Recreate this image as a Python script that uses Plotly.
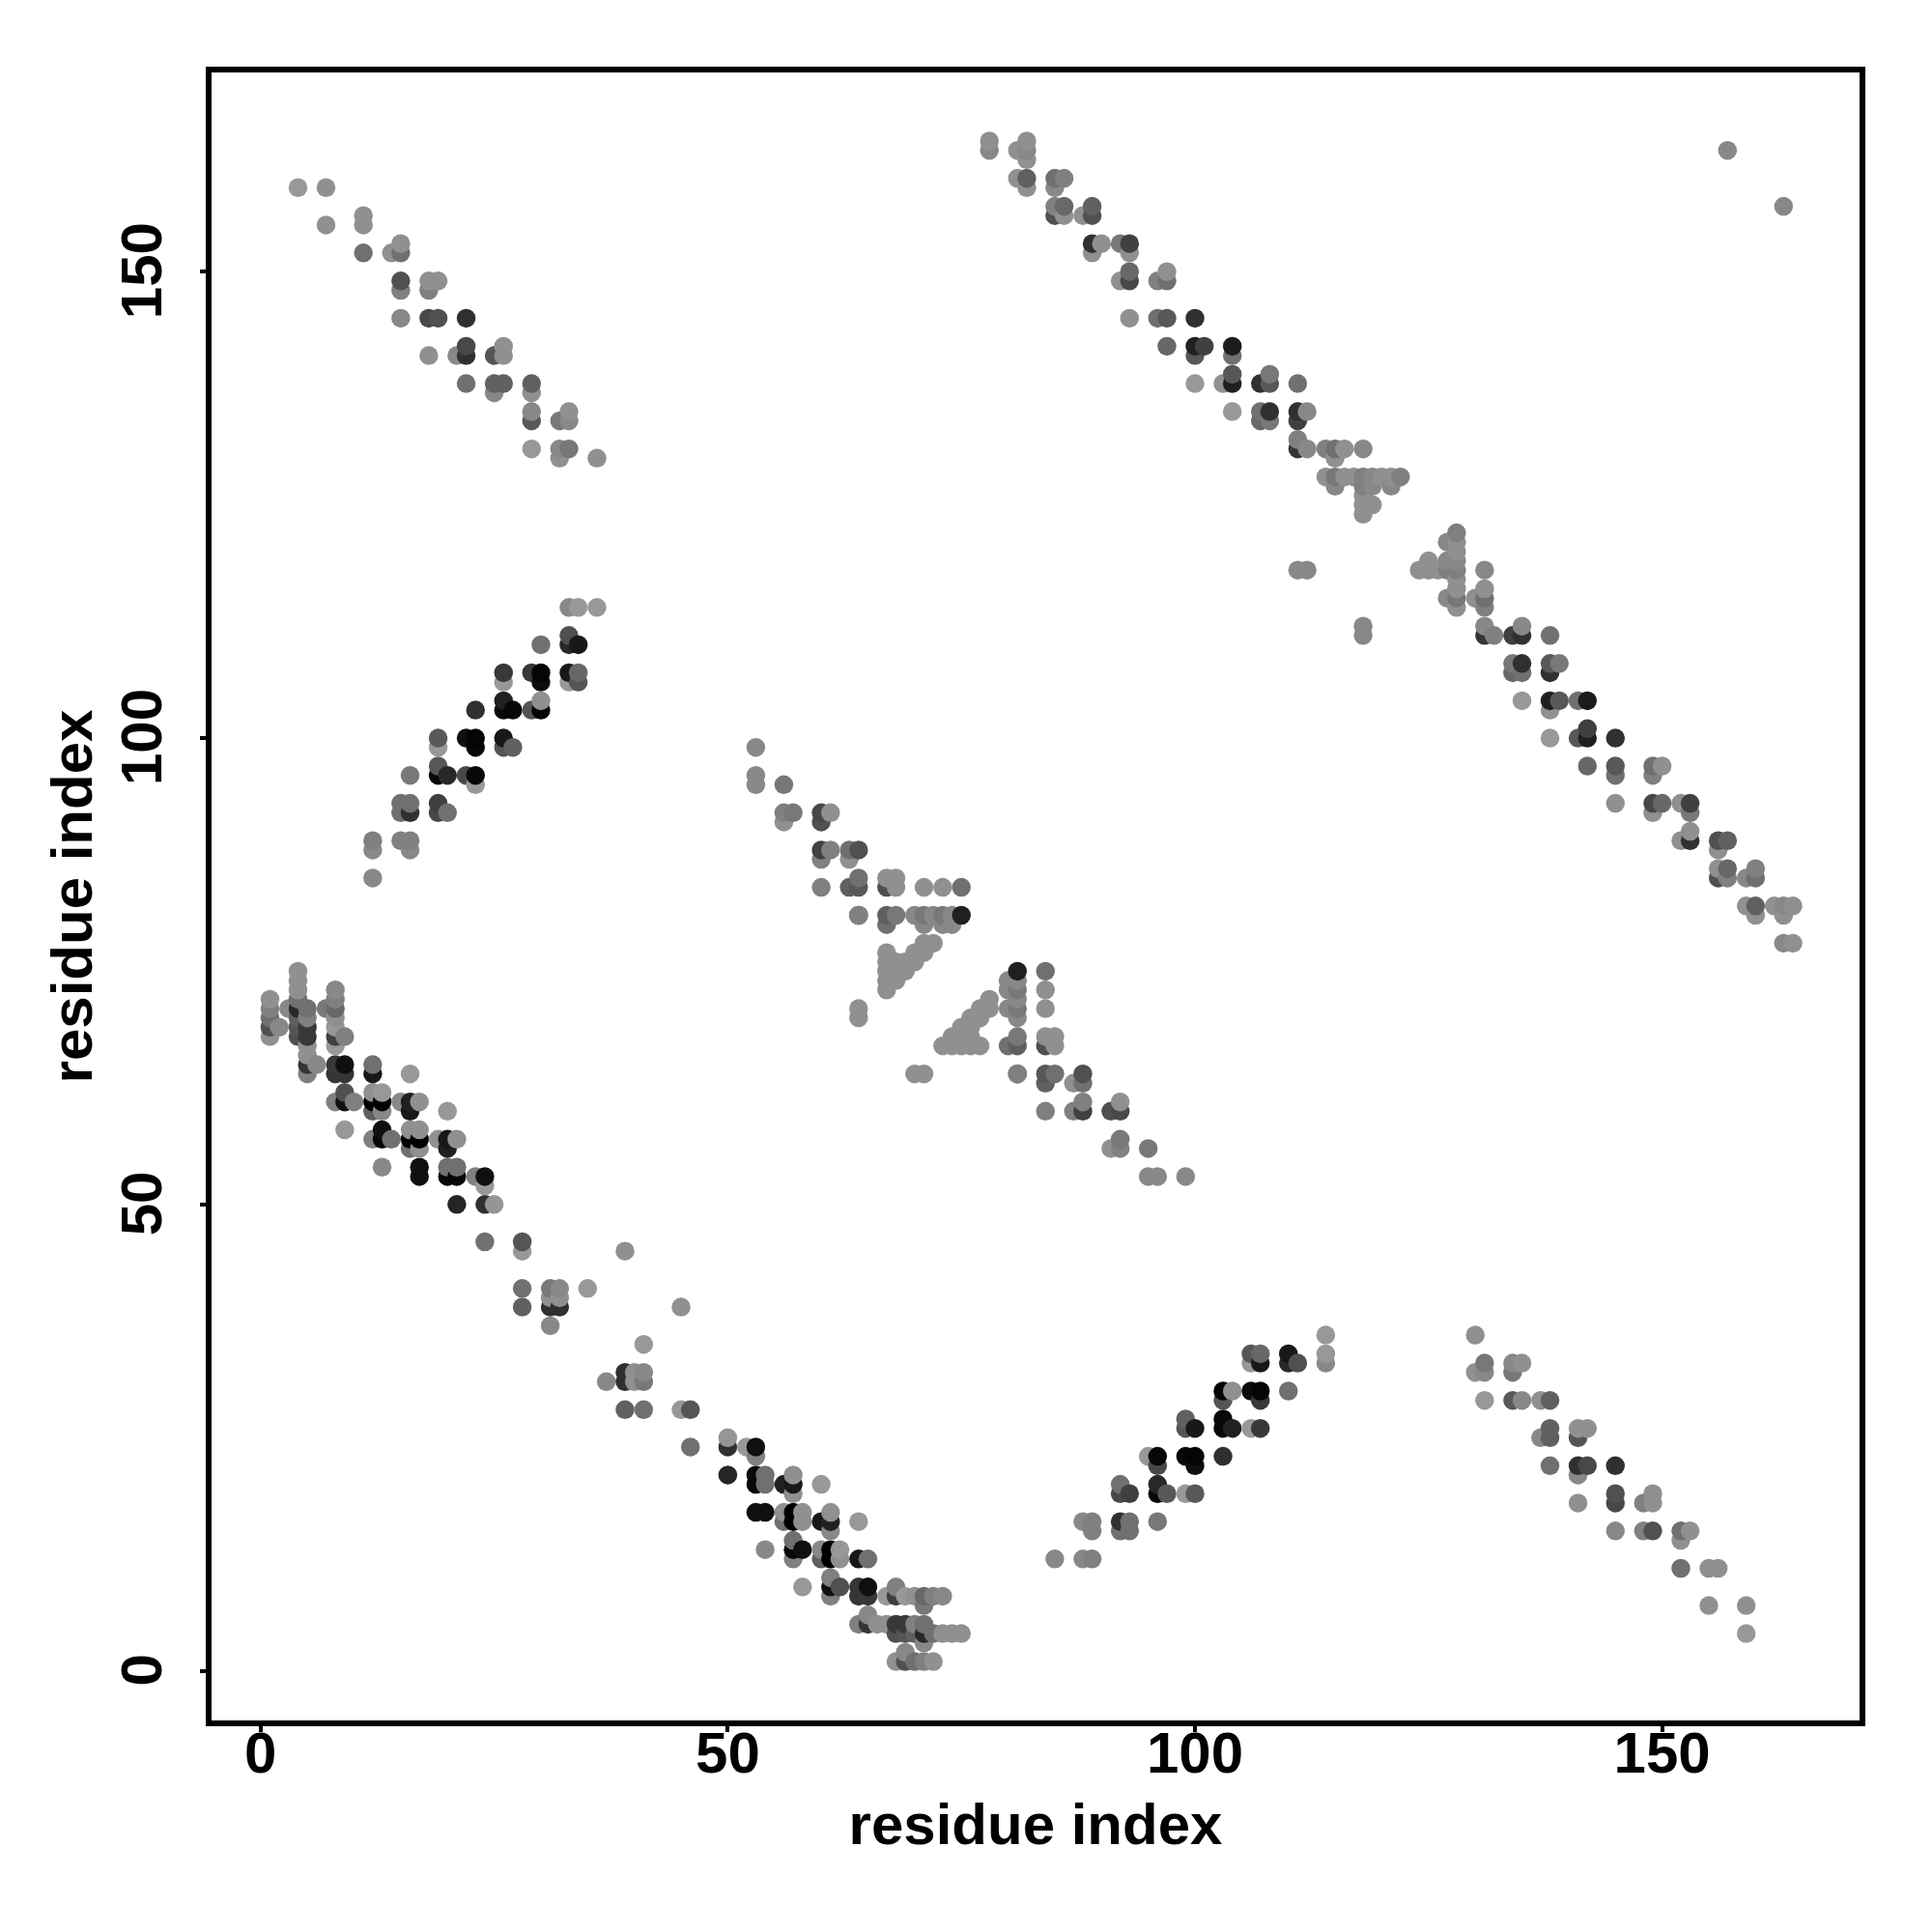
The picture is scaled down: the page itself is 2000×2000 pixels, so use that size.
import plotly.graph_objects as go

# Contact map values, lower triangle (i > j); the upper triangle is its mirror.
band_a_i = [37,39,39,40,40,41,41,41,39,41,45,45,46,46,
            50,50,52,53,53,50,53,53,54,54,56,57,57,57,60,
            53,54,56,56,57,57,58,58,60,61,61,61,64,
            54,57,57,57,58,60,60,61,61,62,62,64,65,
            58,61,61,61,62,64,64,65,65,67,68,68,69,70,71,71,72,73,
            64,65,65,66,67,68,68,69,69,70,70,71,71,71,72,73,74,75,
            68,69,69,70,71,72]
band_a_j = [31,32,31,32,31,32,31,35,28,28,39,28,28,24,
            25,24,24,24,23,21,21,20,21,20,20,21,20,19,20,
            17,17,17,16,17,16,17,16,16,17,16,15,16,
            13,14,13,12,13,13,12,13,12,13,12,12,12,
            9,10,9,8,9,9,8,9,8,8,9,8,8,8,8,7,8,8,
            5,6,5,5,5,5,4,5,4,5,4,5,4,3,4,4,4,4,
            1,2,1,1,1,1]
band_a_g = [0x88,0x30,0x30,0x90,0x90,0x88,0x78,0x98,0x60,0x70,0x90,0x98,0x55,0x70,
            0x95,0x30,0x98,0x10,0x80,0x25,0x08,0x08,0x70,0x70,0x20,0x90,0x18,0x90,0x98,
            0x10,0x10,0x90,0x70,0x00,0x00,0x90,0x90,0x18,0x90,0x20,0x88,0x98,
            0x88,0x70,0x08,0x80,0x10,0x88,0x60,0x00,0x00,0x98,0x90,0x18,0x70,
            0x98,0x80,0x10,0x80,0x50,0x35,0x35,0x10,0x38,0x98,0x80,0x40,0x98,0x90,0x68,0x78,0x80,0x88,
            0x80,0x88,0x35,0x90,0x90,0x38,0x50,0x38,0x55,0x80,0x60,0x70,0x28,0x88,0x70,0x90,0x90,0x90,
            0x90,0x88,0x50,0x70,0x80,0x90]

band_b_i = [85,88,89,88,89,89,92,92,93,93,96,
            92,92,93,96,96,97,99,100,
            95,96,96,99,100,100,103,
            99,99,100,103,103,104,106,107,
            103,103,104,106,107,107,110,
            106,106,107,107,110,110,111,114,114,114]
band_b_j = [12,12,12,16,16,15,16,15,16,15,16,
            20,19,19,20,19,19,19,19,
            23,23,22,23,23,22,23,
            27,26,26,27,26,26,26,26,
            30,29,30,30,30,29,30,
            34,33,34,33,34,33,33,36,34,33]
band_b_g = [0x88,0x88,0x80,0x88,0x80,0x80,0x30,0x70,0x70,0x70,0x78,
            0x70,0x48,0x40,0x28,0x08,0x58,0x98,0x58,
            0x98,0x08,0x48,0x08,0x05,0x10,0x30,
            0x60,0x55,0x18,0x08,0x08,0x20,0x98,0x38,
            0x05,0x55,0x90,0x0c,0x05,0x38,0x70,
            0x55,0x98,0x68,0x18,0x18,0x28,0x50,0x98,0x98,0x88]

band_c_i = [130,130,131,131,134,134,135,
            131,134,135,137,138,
            137,138,138,141,141,142,
            138,141,141,142,145,
            141,145,145,148,149,149,
            145,148,149,152,152,153,
            152,155,156,155,159,159]
band_c_j = [36,32,33,32,33,32,33,
            29,29,29,29,29,
            25,26,25,26,25,26,
            22,22,21,22,22,
            18,19,18,18,19,18,
            15,15,15,15,14,15,
            11,11,11,7,7,4]
band_c_g = [0x90,0x90,0x78,0x88,0x88,0x78,0x90,
            0x98,0x58,0x88,0x90,0x60,
            0x88,0x60,0x60,0x90,0x55,0x90,
            0x70,0x30,0x88,0x48,0x30,
            0x90,0x50,0x48,0x80,0x90,0x90,
            0x88,0x80,0x50,0x70,0x90,0x90,
            0x70,0x90,0x90,0x90,0x90,0x98]

band_d_i = [70,71,73,74,75,74,75,76,76,75,76,76,77,77,77,78,78,
            80,80,80,80,81,81,81,81,81,81,81,81,81,84,84,84,
            81,84,84,85,85,81,84,84,85,87,88,88,
            84,87,88,88,91,92,92,91,92,92,95,95,96,99]
band_d_j = [64,64,67,67,67,68,68,67,68,69,69,70,67,70,71,71,72,
            74,73,71,67,75,74,73,72,71,70,68,67,64,75,73,71,
            64,68,67,68,67,64,64,63,64,63,64,63,
            60,60,61,60,60,61,60,56,57,56,56,53,53,53]
band_d_g = [0x90,0x90,0x90,0x90,0x90,0x90,0x90,0x90,0x90,0x90,0x90,0x90,0x90,0x90,0x90,0x90,0x90,
            0x88,0x88,0x88,0x70,0x20,0x88,0x78,0x88,0x78,0x88,0x78,0x60,0x80,0x70,0x90,0x90,
            0x80,0x90,0x50,0x90,0x90,0x80,0x58,0x60,0x70,0x90,0x50,0x70,
            0x80,0x80,0x80,0x40,0x50,0x90,0x48,0x90,0x78,0x80,0x78,0x88,0x88,0x88]

band_e_i = [118,118,124,125,125,126,
            127,127,127,127,128,128,128,128,128,128,128,128,128,
            130,131,131,131,131,
            131,131,132,134,135,135,138,
            134,134,135,135,138,138,139,
            135,138,138,139,141,142,
            138,141,142,142,145,
            142,145,145,149,149,150,
            145,149,149,150,152,153,153,
            152,153,153,156,156,157,
            156,156,157,157,159,160,160,
            159,160,160,162,163,163,164,163,164,163]
band_e_j = [111,112,118,118,119,118,
            115,118,119,121,114,115,116,117,118,119,120,121,122,
            115,114,115,116,118,
            112,111,111,111,112,111,111,
            108,107,108,107,108,107,108,
            104,104,103,104,104,104,
            100,100,101,100,100,
            97,97,96,97,96,97,
            93,93,92,93,93,93,92,
            89,90,89,89,88,89,
            86,85,86,85,85,86,85,
            82,82,81,82,82,81,82,78,78,157]
band_e_g = [0x88,0x88,0x90,0x90,0x90,0x90,
            0x88,0x80,0x88,0x88,0x90,0x78,0x90,0x90,0x80,0x88,0x90,0x90,0x80,
            0x90,0x80,0x70,0x90,0x88,
            0x88,0x35,0x80,0x40,0x88,0x30,0x70,
            0x78,0x68,0x30,0x70,0x58,0x30,0x78,
            0x98,0x20,0x90,0x58,0x70,0x1c,
            0x98,0x58,0x40,0x20,0x30,
            0x68,0x58,0x70,0x70,0x80,0x90,
            0x90,0x48,0x90,0x68,0x90,0x40,0x78,
            0x90,0x90,0x30,0x50,0x90,0x60,
            0x90,0x50,0x68,0x80,0x88,0x80,0x70,
            0x90,0x60,0x90,0x90,0x88,0x90,0x90,0x88,0x90,0x88]

tick_values = [0, 50, 100, 150]
tick_labels = ["0", "50", "100", "150"]
axis_title = "residue index"

lower_i = band_a_i + band_b_i + band_c_i + band_d_i + band_e_i
lower_j = band_a_j + band_b_j + band_c_j + band_d_j + band_e_j
lower_g = band_a_g + band_b_g + band_c_g + band_d_g + band_e_g

points = sorted(
    [(i, j, g) for i, j, g in zip(lower_i, lower_j, lower_g)]
    + [(j, i, g) for i, j, g in zip(lower_i, lower_j, lower_g)]
)

fig = go.Figure(go.Scatter(
    x=[p[0] for p in points],
    y=[p[1] for p in points],
    mode="markers",
    marker=dict(size=19.5, color=[f"rgb({p[2]},{p[2]},{p[2]})" for p in points], line=dict(width=0)),
    hoverinfo="skip",
))

FONT = "Liberation Sans"
axis = dict(
    showgrid=False, zeroline=False, showline=True, mirror=True,
    linecolor="black", linewidth=6,
    ticks="outside", ticklen=6, tickwidth=3.5, tickcolor="black",
    tickmode="array", tickvals=tick_values, ticktext=tick_labels,
    tickfont=dict(family=FONT, size=60, color="black", weight="bold"),
)
fig.update_xaxes(**axis, range=[-5.25, 171.13], ticklabelstandoff=-30,
                 title=dict(text=axis_title, standoff=22,
                            font=dict(family=FONT, size=60, color="black", weight="bold")))
fig.update_yaxes(**axis, range=[-5.31, 171.35], tickangle=-90, ticklabelstandoff=16, ticklabelshift=8,
                 title=dict(text=axis_title, standoff=0,
                            font=dict(family=FONT, size=60, color="black", weight="bold")))
fig.update_layout(
    width=2000, height=2000, autosize=False, showlegend=False,
    paper_bgcolor="white", plot_bgcolor="white",
    margin=dict(l=210.5, r=82.7, t=66.75, b=226.75, pad=0, autoexpand=False),
)
fig.write_html("out.html")
